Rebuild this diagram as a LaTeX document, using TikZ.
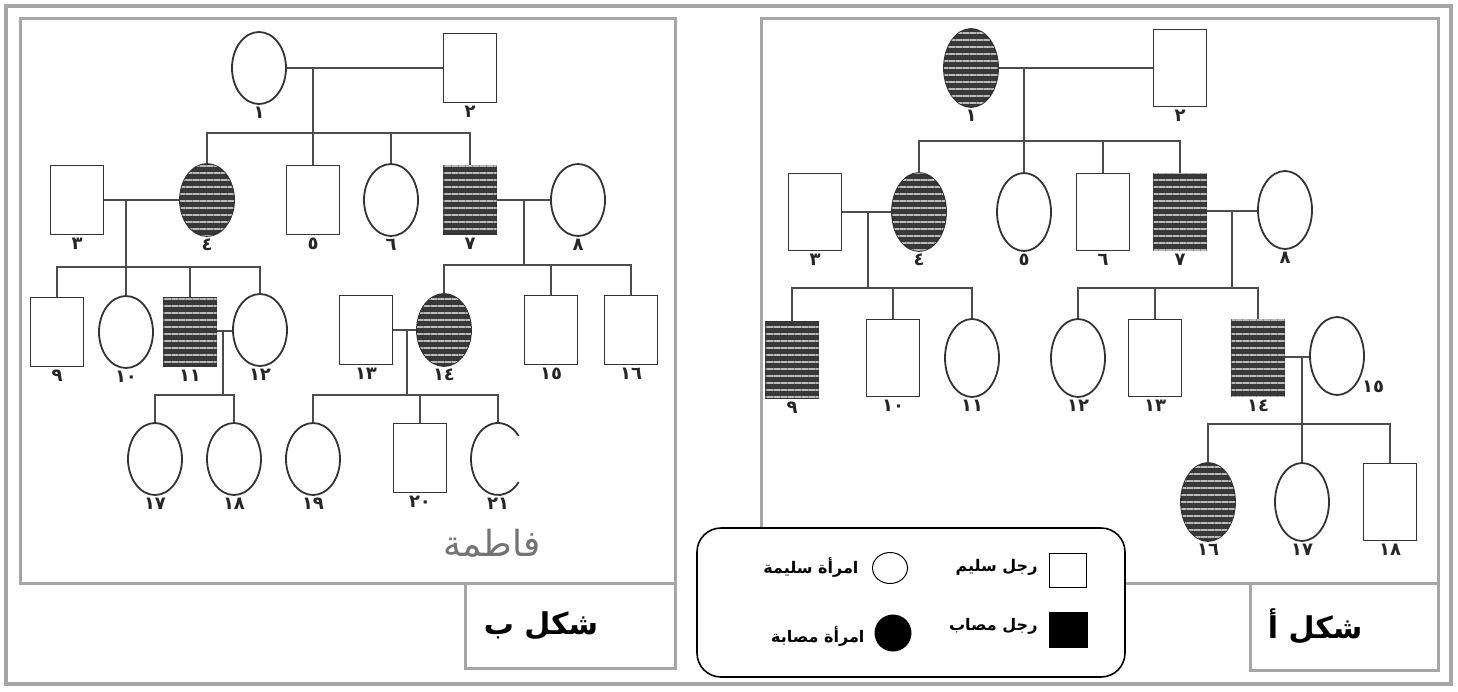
\documentclass[tikz,border=0pt]{standalone}
\usepackage{fontspec}
\usepackage{tikz}
\usetikzlibrary{shapes,positioning,calc,patterns.meta}
\newfontfamily\arabicfont[Script=Arabic]{DejaVu Sans}
\TeXXeTstate=1

\tikzset{
  male/.style={draw=black!80, line width=1.8pt, rectangle, minimum width=53pt, minimum height=69pt, inner sep=0pt},
  female/.style={draw=black!80, line width=1.8pt, ellipse, minimum width=54pt, minimum height=72pt, inner sep=0pt},
  sick/.style={fill=black!78, postaction={pattern={Lines[angle=0,distance=7pt,line width=2pt]}, pattern color=gray!55}},
  num/.style={font=\arabicfont\bfseries\fontsize{18}{18}\selectfont, text=black!85, inner sep=2pt},
  link/.style={draw=black!70, line width=2.2pt},
  frame/.style={draw=black!35, line width=3pt},
  fig/.style={font=\arabicfont\bfseries\fontsize{30}{30}\selectfont},
  key/.style={font=\arabicfont\bfseries\fontsize{16}{16}\selectfont}
}

\begin{document}
\begin{tikzpicture}[x=1pt,y=-1pt]
  \useasboundingbox (0,0) rectangle (1458,691);
  % frames
  \draw[frame, line width=4pt] (6,6) rectangle (1451,684);
  \draw[frame] (20,18) rectangle (675,583);
  \draw[frame] (465,583) rectangle (675,668);
  \draw[frame] (761,18) rectangle (1438,583);
  \draw[frame] (1250,583) rectangle (1438,670);

  % shakl b
  \node[female, label={[num]below:١}] (b1) at (259,68) {};
  \node[male, label={[num]below:٢}] (b2) at (470,68) {};
  \node[male, label={[num]below:٣}] (b3) at (77,200) {};
  \node[female, sick, label={[num]below:٤}] (b4) at (207,200) {};
  \node[male, label={[num]below:٥}] (b5) at (313,200) {};
  \node[female, label={[num]below:٦}] (b6) at (391,200) {};
  \node[male, sick, label={[num]below:٧}] (b7) at (470,200) {};
  \node[female, label={[num]below:٨}] (b8) at (578,200) {};
  \node[male, label={[num]below:٩}] (b9) at (57,332) {};
  \node[female, label={[num]below:١٠}] (b10) at (126,332) {};
  \node[male, sick, label={[num]below:١١}] (b11) at (190,332) {};
  \node[female, label={[num]below:١٢}] (b12) at (260,330) {};
  \node[male, label={[num]below:١٣}] (b13) at (366,330) {};
  \node[female, sick, label={[num]below:١٤}] (b14) at (444,330) {};
  \node[male, label={[num]below:١٥}] (b15) at (551,330) {};
  \node[male, label={[num]below:١٦}] (b16) at (631,330) {};
  \node[female, label={[num]below:١٧}] (b17) at (155,459) {};
  \node[female, label={[num]below:١٨}] (b18) at (234,459) {};
  \node[female, label={[num]below:١٩}] (b19) at (313,459) {};
  \node[male, label={[num]below:٢٠}] (b20) at (420,458) {};
  \node[female, draw=none, label={[num]below:٢١}] (b21) at (498,459) {};
  \draw[draw=black!80, line width=1.8pt] ([shift={(40:27 and 36)}]b21.center) arc[start angle=40, end angle=320, x radius=27, y radius=36];

  \coordinate (b12m) at (313,68);   \coordinate (b12s) at (313,133);
  \coordinate (b34m) at (126,200);  \coordinate (b34s) at (126,267);
  \coordinate (b78m) at (524,200);  \coordinate (b78s) at (524,265);
  \coordinate (b1112m) at (223,331); \coordinate (b1112s) at (223,395);
  \coordinate (b1314m) at (407,330); \coordinate (b1314s) at (407,395);

  \draw[link] (b1) -- (b2);
  \draw[link] (b12m) -- (b12s);
  \draw[link] (b4.north) -- (b4.north |- b12s) -- (b7.north |- b12s) -- (b7.north);
  \foreach \k in {b5,b6} \draw[link] (\k.north) -- (\k.north |- b12s);

  \draw[link] (b3) -- (b4);
  \draw[link] (b34m) -- (b34s);
  \draw[link] (b9.north) -- (b9.north |- b34s) -- (b12.north |- b34s) -- (b12.north);
  \foreach \k in {b10,b11} \draw[link] (\k.north) -- (\k.north |- b34s);

  \draw[link] (b7) -- (b8);
  \draw[link] (b78m) -- (b78s);
  \draw[link] (b14.north) -- (b14.north |- b78s) -- (b16.north |- b78s) -- (b16.north);
  \draw[link] (b15.north) -- (b15.north |- b78s);

  \draw[link] (b11.east |- b1112m) -- (b12.west |- b1112m);
  \draw[link] (b1112m) -- (b1112s);
  \draw[link] (b17.north) -- (b17.north |- b1112s) -- (b18.north |- b1112s) -- (b18.north);

  \draw[link] (b13) -- (b14);
  \draw[link] (b1314m) -- (b1314s);
  \draw[link] (b19.north) -- (b19.north |- b1314s) -- (b21.north |- b1314s) -- (b21.north);
  \draw[link] (b20.north) -- (b20.north |- b1314s);

  \node[font=\arabicfont\fontsize{36}{36}\selectfont, text=black!55] (name) at (492,543) {\beginR فاطمة\endR};
  \node[fig] (figb) at (541,626) {\beginR شكل ب\endR};

  % shakl a
  \begin{scope}[male/.append style={minimum height=77pt}, female/.append style={minimum height=78pt}]
    \node[female, sick, label={[num]below:١}] (a1) at (971,68) {};
    \node[male, label={[num]below:٢}] (a2) at (1180,68) {};
    \node[male, label={[num]below:٣}] (a3) at (815,212) {};
    \node[female, sick, label={[num]below:٤}] (a4) at (919,212) {};
    \node[female, label={[num]below:٥}] (a5) at (1024,212) {};
    \node[male, label={[num]below:٦}] (a6) at (1103,212) {};
    \node[male, sick, label={[num]below:٧}] (a7) at (1180,212) {};
    \node[female, label={[num]below:٨}] (a8) at (1285,210) {};
    \node[male, sick, label={[num]below:٩}] (a9) at (792,360) {};
    \node[male, label={[num]below:١٠}] (a10) at (893,358) {};
    \node[female, label={[num]below:١١}] (a11) at (972,358) {};
    \node[female, label={[num]below:١٢}] (a12) at (1078,358) {};
    \node[male, label={[num]below:١٣}] (a13) at (1155,358) {};
    \node[male, sick, label={[num]below:١٤}] (a14) at (1258,358) {};
    \node[female, label={[num]below right:١٥}] (a15) at (1337,356) {};
    \node[female, sick, label={[num]below:١٦}] (a16) at (1208,502) {};
    \node[female, label={[num]below:١٧}] (a17) at (1302,502) {};
    \node[male, label={[num]below:١٨}] (a18) at (1390,502) {};
  \end{scope}

  \coordinate (a12m) at (1024,68);   \coordinate (a12s) at (1024,141);
  \coordinate (a34m) at (868,212);   \coordinate (a34s) at (868,288);
  \coordinate (a78m) at (1232,211);  \coordinate (a78s) at (1232,288);
  \coordinate (a1415m) at (1302,357); \coordinate (a1415s) at (1302,424);

  \draw[link] (a1) -- (a2);
  \draw[link] (a12m) -- (a12s);
  \draw[link] (a4.north) -- (a4.north |- a12s) -- (a7.north |- a12s) -- (a7.north);
  \foreach \k in {a5,a6} \draw[link] (\k.north) -- (\k.north |- a12s);

  \draw[link] (a3) -- (a4);
  \draw[link] (a34m) -- (a34s);
  \draw[link] (a9.north) -- (a9.north |- a34s) -- (a11.north |- a34s) -- (a11.north);
  \draw[link] (a10.north) -- (a10.north |- a34s);

  \draw[link] (a7.east |- a78m) -- (a8.west |- a78m);
  \draw[link] (a78m) -- (a78s);
  \draw[link] (a12.north) -- (a12.north |- a78s) -- (a14.north |- a78s) -- (a14.north);
  \draw[link] (a13.north) -- (a13.north |- a78s);

  \draw[link] (a14.east |- a1415m) -- (a15.west |- a1415m);
  \draw[link] (a1415m) -- (a1415s);
  \draw[link] (a16.north) -- (a16.north |- a1415s) -- (a18.north |- a1415s) -- (a18.north);
  \draw[link] (a17.north) -- (a17.north |- a1415s);

  \node[fig] (figa) at (1315,626) {\beginR شكل أ\endR};

  % key
  \draw[line width=1.6pt, rounded corners=24pt, fill=white] (697,528) rectangle (1125,677);
  \node[draw, line width=1pt, minimum width=37pt, minimum height=34pt, inner sep=0pt] (k1) at (1068,570) {};
  \node[key, anchor=east] (k1t) at (1041,567) {\beginR رجل سليم\endR};
  \node[draw, ellipse, line width=1pt, minimum width=35pt, minimum height=31pt, inner sep=0pt] (k2) at (890,568) {};
  \node[key, anchor=east] (k2t) at (862,567) {\beginR امرأة سليمة\endR};
  \node[fill=black, minimum width=39pt, minimum height=36pt, inner sep=0pt] (k3) at (1068,630) {};
  \node[key, anchor=east] (k3t) at (1041,626) {\beginR رجل مصاب\endR};
  \node[fill=black, circle, minimum size=37pt, inner sep=0pt] (k4) at (893,633) {};
  \node[key, anchor=east] (k4t) at (868,636) {\beginR امرأة مصابة\endR};
\end{tikzpicture}
\end{document}
